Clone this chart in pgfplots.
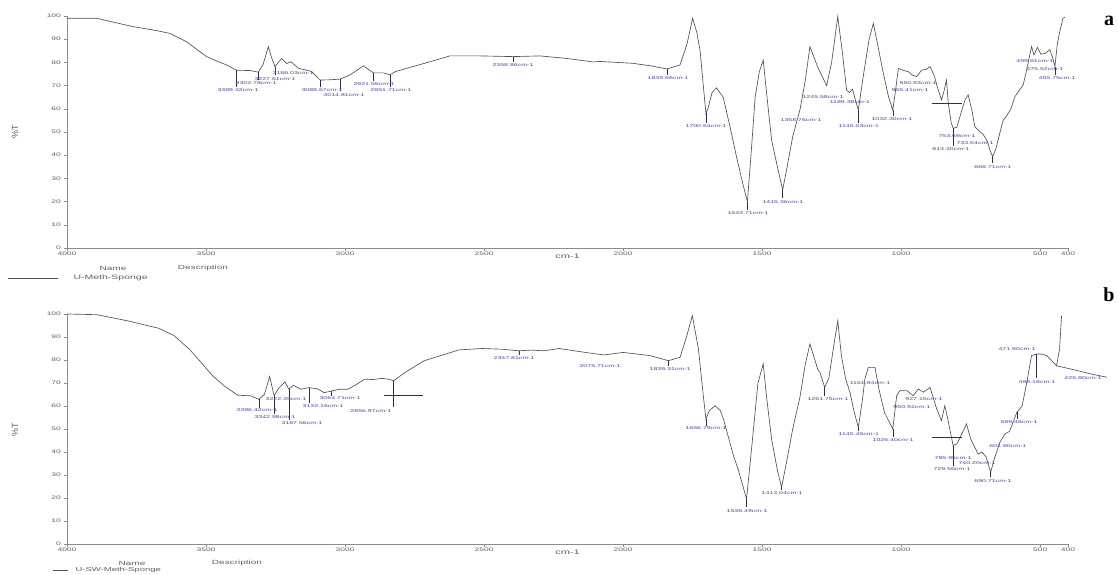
\documentclass[border=0pt]{standalone}
\usepackage{graphicx}
\usepackage{fontspec}
\setmainfont{Liberation Sans}
\newfontfamily\serifb{Liberation Serif}
\usepackage{pgfplots}
\pgfplotsset{compat=1.18}
\definecolor{axgray}{RGB}{140,140,140}
\definecolor{labgray}{RGB}{95,95,95}
\definecolor{curvec}{RGB}{80,80,80}
\definecolor{annblue}{RGB}{70,70,165}
\newcommand{\sq}[1]{\scalebox{1}[0.6]{#1}}
\newcommand{\pk}[3]{\node[font=\fontsize{7}{7}\selectfont, text=annblue, inner sep=0pt] at (axis cs:#1,#2) {\sq{#3}};}
\newcommand{\ld}[3]{\draw[annblue!60!black, line width=0.4pt] (axis cs:#1,#2) -- (axis cs:#1,#3);}
\pgfplotsset{
  ftir/.style={
    scale only axis, width=1001pt, height=232pt,
    xmin=400, xmax=4000, x dir=reverse, ymin=0, ymax=100,
    axis lines*=left,
    axis line style={draw=axgray, line width=0.7pt},
    tick style={draw=axgray, line width=0.5pt},
    tick align=outside, major tick length=2.5pt,
    xtick={4000,3500,3000,2500,2000,1500,1000,500,400},
    xticklabels={\sq{4000},\sq{3500},\sq{3000},\sq{2500},\sq{2000},\sq{1500},\sq{1000},\sq{500},\sq{400}},
    ytick={0,10,...,100},
    yticklabels={\sq{0},\sq{10},\sq{20},\sq{30},\sq{40},\sq{50},\sq{60},\sq{70},\sq{80},\sq{90},\sq{100}},
    tick label style={font=\fontsize{8.5}{8.5}\selectfont, text=labgray},
    xticklabel style={yshift=2pt},
    xlabel={\sq{cm-1}},
    xlabel style={font=\fontsize{11}{11}\selectfont, text=labgray, yshift=9pt},
    clip=false,
  },
  curve/.style={draw=curvec, line width=0.65pt, mark=none},
}
\begin{document}
\begin{tikzpicture}[x=1pt,y=1pt]
\useasboundingbox (0,0) rectangle (1118,574);
% ---------------- top spectrum (a) ----------------
\begin{axis}[ftir, at={(67pt,326pt)}, anchor=south west]
\addplot[curve] coordinates {
(4000,99) (3893,99) (3762,95.4) (3677,93.7) (3630,92.5) (3570,88.9) (3498,82.5)
(3460,80.5) (3426,78.9) (3390,76.6) (3342,76.5) (3312,75.8) (3295,79) (3276,86.8)
(3264,82) (3252,78.2) (3240,80) (3228,81.7) (3210,79.5) (3195,80.3) (3168,77.5)
(3120,76.1) (3090,72.4) (3054,72.5) (3018,72.8) (2982,74.6) (2934,78.5) (2898,75.5)
(2862,75.5) (2838,74.6) (2820,76) (2756,78.2) (2694,80.3) (2623,82.8) (2515,82.8)
(2396,82.5) (2299,82.8) (2202,81.7) (2108,80.2) (2083,80.4) (1964,79.6) (1900,78.5)
(1842,77.2) (1795,78.9) (1770,88) (1750,99) (1735,93) (1723,85) (1710,68) (1702,58)
(1695,60) (1680,67) (1664,69) (1640,65) (1615,52) (1592,39.3) (1570,28) (1553,20)
(1540,40) (1525,65) (1510,76) (1496,81) (1485,68) (1466,46.6) (1445,35) (1426,25)
(1410,35) (1390,48) (1364,59.5) (1345,72) (1328,86.8) (1300,78) (1268,70) (1250,80)
(1228,99.7) (1212,85) (1196,68) (1185,67) (1175,68.5) (1165,64) (1154,59.5) (1135,75)
(1115,90) (1100,96.8) (1085,88) (1064,75.3) (1045,65) (1030,59.5) (1020,68) (1010,77.4)
(990,76.5) (974,76) (960,74.5) (944,73.9) (926,76.7) (910,77) (896,78.2) (880,74)
(872,70.3) (855,63.8) (845,68) (837,72.4) (830,62) (820,54) (813,51.6) (800,52)
(785,58) (770,64) (759,66) (745,59) (735,52.3) (720,50.5) (705,49) (690,46) (680,42)
(671,39.4) (660,42.5) (651,46.6) (640,52) (633,55) (620,57) (605,60) (591,65.2)
(561,70.3) (550,76) (531,86.8) (522,83.2) (510,86.5) (497,83.5) (480,84) (465,85.5)
(455,82) (447,78.2) (438,88.2) (430,93) (418,99) (411,99.5)
};
\ld{3390}{76.6}{69.5} \ld{3312}{75.8}{72.5} \ld{3252}{78.2}{74.5}
\ld{3090}{72.4}{69.5} \ld{3018}{72.8}{67.5} \ld{2898}{75.5}{72} \ld{2838}{74.6}{69.5}
\ld{2396}{82.5}{80} \ld{1842}{77.2}{74.5} \ld{1702}{58}{54} \ld{1553}{20}{16.5}
\ld{1426}{25}{21.5} \ld{1154}{59.5}{54} \ld{1030}{59.5}{57} \ld{813}{51.6}{44}
\ld{671}{39.4}{36.5} \ld{447}{78.2}{74.5}
\pk{3385}{68}{3389.32cm-1}
\pk{3320}{71}{3302.78cm-1}
\pk{3252}{73}{3227.61cm-1}
\pk{3187}{75.3}{3186.03cm-1}
\pk{3083}{68}{3088.67cm-1}
\pk{3004}{66}{3014.81cm-1}
\pk{2896}{70.7}{2921.55cm-1}
\pk{2835}{68}{2851.71cm-1}
\pk{2396}{78.8}{2358.86cm-1}
\pk{1838}{73.1}{1839.66cm-1}
\pk{1702}{52.7}{1700.64cm-1}
\pk{1551}{15}{1543.71cm-1}
\pk{1425}{20}{1415.36cm-1}
\pk{1360}{55.2}{1358.76cm-1}
\pk{1281}{65}{1245.58cm-1}
\pk{1184}{62.8}{1189.38cm-1}
\pk{1152}{52.7}{1145.03cm-1}
\pk{1033}{55.4}{1032.30cm-1}
\pk{939}{70.9}{950.93cm-1}
\pk{968}{68}{955.41cm-1}
\pk{799}{48.3}{753.69cm-1}
\pk{734}{45.3}{733.54cm-1}
\pk{821}{42.6}{813.20cm-1}
\pk{670}{35}{668.71cm-1}
\pk{519}{80.6}{499.61cm-1}
\pk{483}{77.2}{475.52cm-1}
\pk{439}{73.2}{455.75cm-1}
\draw[annblue!60!black, line width=0.4pt] (axis cs:890,62.5) -- (axis cs:780,62.5);
\end{axis}
% ---------------- bottom spectrum (b) ----------------
\begin{axis}[ftir, height=230pt, at={(67pt,30pt)}, anchor=south west]
\addplot[curve] coordinates {
(4000,100) (3892,99.7) (3781,97) (3670,93.8) (3615,90.6) (3560,84.7) (3518,79)
(3476,73.1) (3435,68.8) (3386,64.7) (3338,64.4) (3310,62.9) (3290,65) (3271,72.8)
(3255,64.4) (3240,67.5) (3216,70.5) (3202,67.3) (3186,69) (3158,67.3) (3130,68)
(3100,67.5) (3075,65.8) (3050,66.5) (3019,67.3) (2990,67.3) (2964,69) (2929,71.7)
(2900,71.5) (2867,72) (2840,71.6) (2826,70.9) (2784,74.6) (2715,79.7) (2659,81.8)
(2590,84.4) (2507,85) (2438,84.7) (2375,84) (2330,84.3) (2285,84) (2230,85) (2175,84)
(2119,83) (2067,82.2) (2000,83.3) (1903,81.9) (1837,79.7) (1795,81.2) (1772,90)
(1751,99.3) (1729,84.8) (1712,65) (1702,54.3) (1690,58) (1669,60.1) (1650,58)
(1639,54.3) (1603,38.4) (1585,32) (1556,19.6) (1535,45) (1515,70) (1496,78.3)
(1485,65) (1466,45.7) (1445,32) (1430,24.6) (1410,37) (1390,50) (1364,63.8) (1345,78)
(1328,87) (1300,76) (1292,74.6) (1275,68.1) (1260,72) (1240,88) (1228,97.1) (1215,82)
(1200,72) (1184,65.9) (1170,58) (1154,50.7) (1140,62) (1130,72) (1118,76.8) (1094,76.8)
(1080,67.4) (1060,57.2) (1030,50) (1016,64.5) (1004,66.7) (980,66.7) (956,64.5)
(938,67.4) (920,66) (896,68.1) (872,58.7) (855,53.6) (843,60.1) (835,56) (813,42.8)
(800,43.5) (785,47) (765,52.2) (750,45.7) (723,39.1) (710,40) (695,38) (678,31.2)
(665,37) (645,44.2) (627,47.8) (610,49) (584,57.2) (565,60) (548,70.3) (531,81.9)
(513,82.6) (495,82.6) (476,81.9) (453,79) (441,77.5) (430,85) (423,99.3)
};
\addplot[curve] coordinates {(441,77.5) (380,75.8) (320,74) (260,72.5)};
\ld{3310}{62.9}{59} \ld{3255}{64.4}{56.5} \ld{3202}{67.3}{54} \ld{3130}{68}{61.5}
\ld{3050}{66.5}{64.5} \ld{2826}{70.9}{59.5} \ld{2375}{84}{82} \ld{1837}{79.7}{77.5}
\ld{1702}{54.3}{51.5} \ld{1556}{19.6}{16} \ld{1430}{24.6}{23.5} \ld{1275}{68.1}{64.5}
\ld{1154}{50.7}{49} \ld{1030}{50}{46.5} \ld{813}{42.8}{34} \ld{678}{31.2}{29}
\ld{584}{57.2}{54.5} \ld{513}{82.6}{72}
\pk{3317}{58.1}{3396.42cm-1}
\pk{3252}{55.4}{3342.98cm-1}
\pk{3155}{52.8}{3187.56cm-1}
\pk{3212}{63.2}{3222.35cm-1}
\pk{3079}{60}{3132.16cm-1}
\pk{3018}{63.4}{3064.71cm-1}
\pk{2907}{58}{2856.97cm-1}
\pk{2392}{80.7}{2347.81cm-1}
\pk{2083}{77.5}{2075.71cm-1}
\pk{1831}{76.1}{1839.31cm-1}
\pk{1702}{50.4}{1656.79cm-1}
\pk{1554}{14.5}{1538.49cm-1}
\pk{1428}{22}{1413.04cm-1}
\pk{1263}{63}{1261.75cm-1}
\pk{1112}{69.9}{1161.84cm-1}
\pk{1152}{47.8}{1145.45cm-1}
\pk{1029}{45}{1026.40cm-1}
\pk{918}{63}{927.15cm-1}
\pk{961}{59.4}{950.92cm-1}
\pk{813}{37.4}{785.95cm-1}
\pk{727}{35}{740.20cm-1}
\pk{817}{32.6}{729.56cm-1}
\pk{670}{27.5}{690.71cm-1}
\pk{616}{42.8}{601.80cm-1}
\pk{576}{52.9}{589.48cm-1}
\pk{583}{84.8}{471.90cm-1}
\pk{511}{70.6}{498.16cm-1}
\pk{346}{72.2}{425.80cm-1}
\draw[annblue!60!black, line width=0.4pt] (axis cs:2860,64.7) -- (axis cs:2720,64.7);
\draw[annblue!60!black, line width=0.4pt] (axis cs:890,46.5) -- (axis cs:780,46.5);
\end{axis}
% ---------------- y labels, legends, panel letters ----------------
\node[rotate=90, font=\fontsize{9}{9}\selectfont, text=labgray] at (15,442) {\%T};
\node[rotate=90, font=\fontsize{9}{9}\selectfont, text=labgray] at (15,144) {\%T};
\node[font=\fontsize{10}{10}\selectfont, text=labgray] at (113,306) {\sq{Name}};
\node[font=\fontsize{10}{10}\selectfont, text=labgray] at (203,306) {\sq{Description}};
\draw[curvec, line width=0.6pt] (8,296) -- (58,296);
\node[font=\fontsize{10.5}{10.5}\selectfont, text=labgray, anchor=west] at (70,296) {\sq{U-Meth-Sponge}};
\node[font=\fontsize{10}{10}\selectfont, text=labgray] at (132,11) {\sq{Name}};
\node[font=\fontsize{10}{10}\selectfont, text=labgray] at (237,11) {\sq{Description}};
\draw[curvec, line width=0.6pt] (53,3.5) -- (68,3.5);
\node[font=\fontsize{9.5}{9.5}\selectfont, text=labgray, anchor=west] at (72,3.5) {\sq{U-SW-Meth-Sponge}};
\node[font=\serifb\bfseries\fontsize{20}{20}\selectfont] at (1109,553) {a};
\node[font=\serifb\bfseries\fontsize{20}{20}\selectfont] at (1109,279) {b};
\end{tikzpicture}
\end{document}
